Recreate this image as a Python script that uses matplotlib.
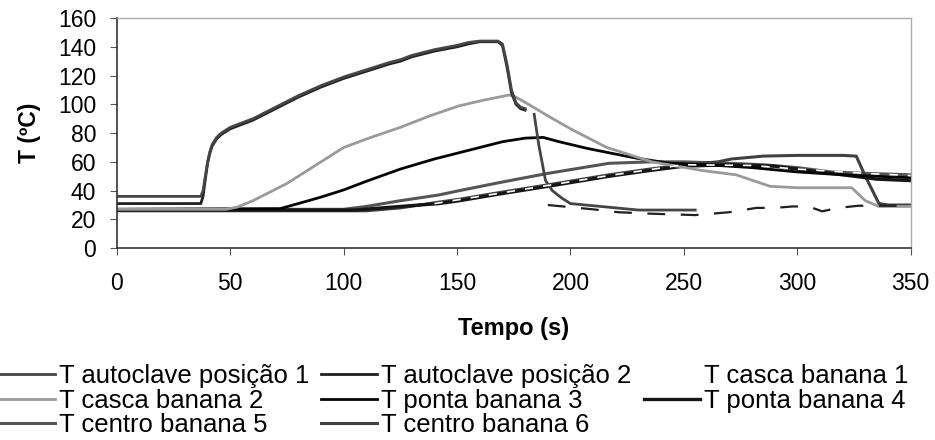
import numpy as np
import matplotlib
matplotlib.use("Agg")
import matplotlib.pyplot as plt

plt.rcParams['font.family'] = ['Liberation Sans', 'DejaVu Sans']

nan = np.nan

# T autoclave posição 1
t_auto1 = [0, 37, 38, 39, 40, 41, 42, 44, 46, 48, 50, 55, 60, 65, 70, 75, 80, 90, 100, 110, 120, 125, 130, 140, 150, 155, 160, 165, 168, 170, 172, 174, 176, 178, 180,
           nan, 184, 186, 189, 192, 196, 200, 210, 220, 230, 255]
T_auto1 = [36, 36, 40, 50, 60, 67, 72, 77, 80, 82, 84, 87, 90, 94, 98, 102, 106, 113, 119, 124, 129, 131, 134, 138, 141, 143, 144, 144, 144, 142, 128, 110, 101, 98, 97,
           nan, 93, 72, 47, 40, 35, 31, 29.5, 28, 26.5, 26.5]

# T autoclave posição 2
t_auto2 = [0, 37, 38, 39, 40, 41, 42, 44, 46, 48, 50, 55, 60, 65, 70, 75, 80, 90, 100, 110, 120, 125, 130, 140, 150, 155, 160, 165, 168, 170, 172, 174, 176, 178, 180]
T_auto2 = [31, 31, 36, 48, 59, 66, 71, 76, 79, 81, 83, 86, 89, 93, 97, 101, 105, 112, 118, 123, 128, 130, 133, 137, 140, 142, 143.5, 143.5, 143.5, 141, 126, 108, 100, 97, 96]
t_auto2_late = [190, 200, 210, 221, 235, 255, 270, 282, 290, 298, 305, 311, 318, 327, 350]
T_auto2_late = [30, 28.5, 27, 25, 24, 23, 25, 28, 28, 29, 29, 25.6, 28, 29.5, 29.5]

# T casca banana 1
t_casca1 = [140, 170, 217, 250, 280, 300, 330, 350]
T_casca1 = [31, 38.5, 50.5, 58, 57.5, 55, 52, 50.5]

# T casca banana 2
t_casca2 = [0, 48, 53, 60, 75, 88, 100, 112, 125, 138, 151, 162, 173, 176, 182, 190, 200, 216, 236, 258, 273, 288, 300, 324, 330, 336, 350]
T_casca2 = [27, 27, 28.5, 33, 45, 58, 70, 77, 84, 92, 99, 103, 106.5, 105, 99.5, 92, 83, 70, 60, 54, 51, 43, 42, 42, 33, 29, 29]

# T ponta banana 3
t_ponta3 = [0, 72, 80, 90, 100, 110, 125, 140, 150, 160, 170, 180, 188, 195, 207, 218, 229, 244, 260, 280, 300, 320, 350]
T_ponta3 = [27, 27.5, 31, 35.5, 40.5, 46.5, 55, 62, 66, 70, 74, 76.5, 77, 74, 69.5, 66, 62.6, 59, 58, 56, 53, 51, 49]

# T ponta banana 4
t_ponta4 = [0, 105, 125, 142, 151, 170, 190, 217, 235, 250, 270, 290, 305, 320, 335, 350]
T_ponta4 = [26.5, 26.5, 29, 31, 33, 38, 43, 50, 54, 57, 58, 57, 54, 51, 48, 47]

# T centro banana 5
t_centro5 = [0, 100, 110, 125, 142, 151, 170, 190, 217, 235, 250, 270, 285, 300, 315, 330, 350]
T_centro5 = [27, 27, 29, 33, 37, 40, 46, 52, 59, 60, 60, 59, 58, 56, 53, 52, 51]

# T centro banana 6
t_centro6 = [0, 110, 125, 142, 151, 170, 190, 217, 235, 250, 265, 271, 285, 300, 320, 326, 330, 336, 340, 350]
T_centro6 = [26, 26, 28, 32, 34, 39, 44, 51, 55, 58, 60, 62, 64, 64.5, 64.5, 64, 50, 31, 30, 30]

x_ticks = [0, 50, 100, 150, 200, 250, 300, 350]
y_ticks = [0, 20, 40, 60, 80, 100, 120, 140, 160]

fig = plt.figure(figsize=(9.35, 4.4), dpi=100)
ax = fig.add_axes([0.125, 0.436, 0.849, 0.523])

h_c5, = ax.plot(t_centro5, T_centro5, color='#555555', lw=2.2, label='T centro banana 5')
h_c6, = ax.plot(t_centro6, T_centro6, color='#404040', lw=2.2, label='T centro banana 6')
h_p4, = ax.plot(t_ponta4, T_ponta4, color='#151515', lw=2.4, label='T ponta banana 4')
h_p3, = ax.plot(t_ponta3, T_ponta3, color='#050505', lw=2.0, label='T ponta banana 3')
h_c2, = ax.plot(t_casca2, T_casca2, color='#9a9a9a', lw=2.0, label='T casca banana 2')
h_a2, = ax.plot(t_auto2, T_auto2, color='#202020', lw=2.0, label='T autoclave posição 2')
ax.plot(t_auto2_late, T_auto2_late, color='#202020', lw=1.6, ls=(0, (8, 7)))
h_a1, = ax.plot(t_auto1, T_auto1, color='#454545', lw=2.0, label='T autoclave posição 1')
h_cb1, = ax.plot(t_casca1, T_casca1, color='white', lw=1.2, ls=(0, (5, 6)), label='T casca banana 1')

ax.set_xlim(0, 350)
ax.set_ylim(0, 160)
ax.set_xticks(x_ticks)
ax.set_yticks(y_ticks)
ax.tick_params(axis='both', labelsize=16.5, length=5, color='#555555', direction='out')
ax.tick_params(axis='x', pad=12)
ax.tick_params(axis='y', pad=10)
for s in ['top', 'right']:
    ax.spines[s].set_color('#aaaaaa')
    ax.spines[s].set_linewidth(1.0)
for s in ['left', 'bottom']:
    ax.spines[s].set_color('#333333')
    ax.spines[s].set_linewidth(1.2)

ax.set_xlabel('Tempo (s)', fontsize=17, fontweight='bold', labelpad=16)
ax.set_ylabel('T (ºC)', fontsize=16.5, fontweight='bold', labelpad=12)

handles = [h_a1, h_c2, h_c5, h_a2, h_p3, h_c6, h_cb1, h_p4]
fig.legend(handles=handles, labels=[h.get_label() for h in handles], ncol=3,
           loc='upper left', bbox_to_anchor=(-0.002, 0.172), frameon=False,
           fontsize=18.5, handlelength=2.2, handletextpad=0.15, columnspacing=0.47,
           labelspacing=0.02, borderaxespad=0, borderpad=0)

fig.savefig('out.png', dpi=100)
